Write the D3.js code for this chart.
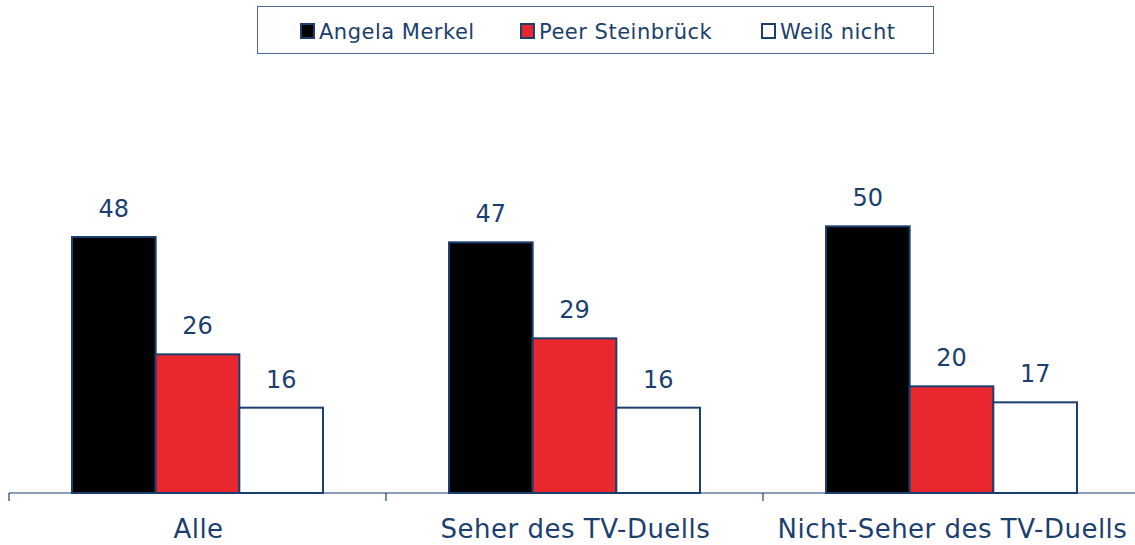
<!DOCTYPE html>
<html>
<head>
<meta charset="utf-8">
<script src="https://d3js.org/d3.v7.min.js"></script>
<style>
  html, body { margin: 0; padding: 0; background: #fff; }
  svg text { font-family: "DejaVu Sans", Verdana, sans-serif; fill: #1b3f6e; }
</style>
</head>
<body>
<div id="chart"></div>
<script>
// chart data
const categories = ["Alle", "Seher des TV-Duells", "Nicht-Seher des TV-Duells"];
const seriesNames = ["Angela Merkel", "Peer Steinbrück", "Weiß nicht"];
const seriesColors = ["#000000", "#e8282e", "#ffffff"];
const merkel = [48, 47, 50];
const steinbrueck = [26, 29, 20];
const weissNicht = [16, 16, 17];

const width = 1135, height = 545;
const baseY = 493;
const blue = "#1b3f6e";

const svg = d3.select("#chart").append("svg")
  .attr("width", width)
  .attr("height", height);

const x0 = d3.scaleBand().domain(categories).range([9, 9 + 377 * 3]).paddingInner(0).paddingOuter(0);
const x1 = d3.scaleBand().domain(seriesNames).range([0, 251]);
const y = d3.scaleLinear().domain([0, 48]).range([baseY, 237]);

const rows = categories.map((c, i) => ({
  cat: c,
  vals: [merkel[i], steinbrueck[i], weissNicht[i]]
}));

// axis line + ticks
svg.append("line")
  .attr("x1", 9).attr("x2", width)
  .attr("y1", baseY).attr("y2", baseY)
  .attr("stroke", blue).attr("stroke-width", 1.2);

svg.selectAll(".tick")
  .data(categories)
  .enter().append("line")
  .attr("x1", d => x0(d)).attr("x2", d => x0(d))
  .attr("y1", baseY).attr("y2", baseY + 8)
  .attr("stroke", blue).attr("stroke-width", 1.2);

const groups = svg.selectAll(".grp")
  .data(rows)
  .enter().append("g")
  .attr("transform", d => `translate(${x0(d.cat) + (x0.bandwidth() - 251) / 2},0)`);

groups.selectAll("rect")
  .data(d => d.vals.map((v, j) => ({ v, j })))
  .enter().append("rect")
  .attr("x", d => x1(seriesNames[d.j]))
  .attr("y", d => y(d.v))
  .attr("width", x1.bandwidth())
  .attr("height", d => baseY - y(d.v))
  .attr("fill", d => seriesColors[d.j])
  .attr("stroke", blue)
  .attr("stroke-width", 2);

groups.selectAll(".val")
  .data(d => d.vals.map((v, j) => ({ v, j })))
  .enter().append("text")
  .attr("x", d => x1(seriesNames[d.j]) + x1.bandwidth() / 2)
  .attr("y", d => y(d.v) - 20)
  .attr("text-anchor", "middle")
  .attr("font-size", 24)
  .text(d => d.v);

// category labels
svg.selectAll(".cat")
  .data(categories)
  .enter().append("text")
  .attr("x", d => x0(d) + x0.bandwidth() / 2 + 1)
  .attr("y", 538)
  .attr("text-anchor", "middle")
  .attr("font-size", 26)
  .attr("letter-spacing", 0.5)
  .text(d => d);

// legend
svg.append("rect")
  .attr("x", 257.5).attr("y", 6.5)
  .attr("width", 676).attr("height", 47)
  .attr("fill", "#fff")
  .attr("stroke", "#4a6a96").attr("stroke-width", 1);

const legendX = [301, 521, 762];
const leg = svg.selectAll(".leg")
  .data(seriesNames)
  .enter().append("g")
  .attr("transform", (d, i) => `translate(${legendX[i]},0)`);

leg.append("rect")
  .attr("x", 0).attr("y", 24)
  .attr("width", 13).attr("height", 14)
  .attr("fill", (d, i) => seriesColors[i])
  .attr("stroke", blue).attr("stroke-width", 2);

leg.append("text")
  .attr("x", 18).attr("y", 39)
  .attr("font-size", 21)
  .attr("letter-spacing", 0.5)
  .text(d => d);
</script>
</body>
</html>
